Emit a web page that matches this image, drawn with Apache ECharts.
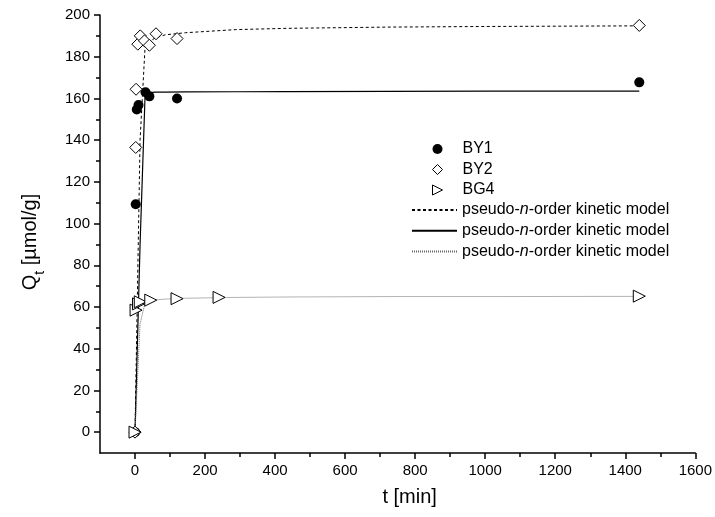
<!DOCTYPE html>
<html>
<head>
<meta charset="utf-8">
<script src="https://cdn.jsdelivr.net/npm/echarts@6/dist/echarts.min.js"></script>
<style>
  html, body { margin: 0; padding: 0; background: #fff; }
  #main { width: 715px; height: 517px; }
</style>
</head>
<body>
<div id="main"></div>
<script>
// measured points
var by1T = [0, 2, 5, 10, 30, 41, 120, 1440];
var by1Q = [0, 109.3, 154.7, 156.8, 163, 161, 160, 167.7];

var by2T = [0, 2, 3, 8, 15, 27, 41, 60, 120, 1440];
var by2Q = [0, 136.5, 164.4, 186, 190, 187.6, 185.5, 191, 188.7, 195];

var bg4T = [0, 3, 10, 15, 45, 120, 240, 1440];
var bg4Q = [0, 58.5, 61.5, 62.5, 63.3, 64, 64.6, 65.2];

// fitted curves
var modelT = [0, 14.4, 28.8, 43.2, 57.6, 86.4, 144, 288, 432, 720, 1008, 1440];
var modelBY2 = [0, 140, 185, 187.5, 189, 190.5, 191.5, 193, 193.6, 194.2, 194.5, 194.8];
var modelBY1 = [0, 90, 162, 162.8, 163, 163, 163.1, 163.2, 163.3, 163.4, 163.5, 163.5];
var modelBG4 = [0, 52, 62, 63, 63.4, 63.8, 64.2, 64.6, 64.8, 65, 65, 65.1];

// axis ticks
var xMajor = [0, 200, 400, 600, 800, 1000, 1200, 1400, 1600];
var xMinor = [100, 300, 500, 700, 900, 1100, 1300, 1500];
var yMajor = [0, 20, 40, 60, 80, 100, 120, 140, 160, 180, 200];
var yMinor = [10, 30, 50, 70, 90, 110, 130, 150, 170, 190];

function pairs(xs, ys) {
  return xs.map(function (x, i) { return [x, ys[i]]; });
}

var font = 'Liberation Sans, Arial, sans-serif';
var legendText = {
  fontFamily: font, fontSize: 16, color: '#000',
  rich: { i: { fontFamily: font, fontSize: 16, fontStyle: 'italic', color: '#000' } }
};

var dom = document.getElementById('main');
var myChart = echarts.init(dom, null, { renderer: 'canvas' });

var option = {
  animation: false,
  backgroundColor: '#fff',
  grid: { left: 100, right: 18, top: 15, bottom: 64 },
  legend: [{
    orient: 'vertical',
    left: 432,
    top: 141,
    padding: 0,
    itemWidth: 10,
    itemHeight: 10,
    itemGap: 4.5,
    data: [
      { name: 'BY1', icon: 'circle' },
      { name: 'BY2', icon: 'diamond', itemStyle: { borderWidth: 1 } },
      { name: 'BG4', icon: 'path://M0,0 L10,5 L0,10 Z', itemStyle: { borderWidth: 1 } }
    ],
    textStyle: Object.assign({}, legendText, { padding: [0, 0, 0, 15] })
  }, {
    orient: 'vertical',
    left: 411,
    top: 202,
    padding: 0,
    itemWidth: 45,
    itemHeight: 14,
    itemGap: 4.7,
    itemStyle: { opacity: 0 },
    data: ['mBY2', 'mBY1', 'mBG4'],
    formatter: function () { return 'pseudo-{i|n}-order kinetic model'; },
    textStyle: legendText
  }],
  xAxis: [{
    type: 'value',
    min: -100, max: 1600, interval: 100,
    name: 't [min]',
    nameLocation: 'middle',
    nameGap: 34,
    nameTextStyle: { fontFamily: font, fontSize: 20, color: '#000', padding: [0, 0, 0, 24] },
    axisLine: { onZero: false, lineStyle: { color: '#000', width: 1.5 } },
    axisTick: { customValues: xMajor, length: 6, lineStyle: { color: '#000', width: 1.5 } },
    axisLabel: {
      customValues: xMajor, margin: 10, fontFamily: font, fontSize: 15, color: '#000',
      formatter: function (v) { return String(v); }
    },
    splitLine: { show: false }
  }, {
    type: 'value',
    gridIndex: 0,
    position: 'bottom',
    min: -100, max: 1600, interval: 100,
    axisLine: { show: false, onZero: false },
    axisTick: { customValues: xMinor, length: 4, lineStyle: { color: '#000', width: 1.5 } },
    axisLabel: { show: false },
    splitLine: { show: false }
  }],
  yAxis: [{
    type: 'value',
    min: -10, max: 200, interval: 10,
    name: '{q|Q}{s|t}{q| [µmol/g]}',
    nameLocation: 'middle',
    nameGap: 53,
    nameRotate: 90,
    nameTextStyle: {
      fontFamily: font, fontSize: 20, color: '#000', padding: [0, 16, 0, 0],
      rich: {
        q: { fontFamily: font, fontSize: 20, lineHeight: 20, color: '#000', verticalAlign: 'top' },
        s: { fontFamily: font, fontSize: 14, lineHeight: 27, color: '#000', verticalAlign: 'bottom' }
      }
    },
    axisLine: { onZero: false, lineStyle: { color: '#000', width: 1.5 } },
    axisTick: { customValues: yMajor, length: 6, lineStyle: { color: '#000', width: 1.5 } },
    axisLabel: { customValues: yMajor, margin: 10, fontFamily: font, fontSize: 15, color: '#000' },
    splitLine: { show: false }
  }, {
    type: 'value',
    gridIndex: 0,
    position: 'left',
    min: -10, max: 200, interval: 10,
    axisLine: { show: false, onZero: false },
    axisTick: { customValues: yMinor, length: 4, lineStyle: { color: '#000', width: 1.5 } },
    axisLabel: { show: false },
    splitLine: { show: false }
  }],
  series: [
    {
      name: 'mBY2', type: 'line', data: pairs(modelT, modelBY2),
      symbol: 'none', z: 1,
      lineStyle: { color: '#000', width: 1, type: [3, 2.5] },
      itemStyle: { color: '#000' }
    },
    {
      name: 'mBY1', type: 'line', data: pairs(modelT, modelBY1),
      symbol: 'none', z: 1,
      lineStyle: { color: '#000', width: 1.2 },
      itemStyle: { color: '#000' }
    },
    {
      name: 'mBG4', type: 'line', data: pairs(modelT, modelBG4),
      symbol: 'none', z: 1,
      lineStyle: { color: '#666', width: 1, type: [1, 1] },
      itemStyle: { color: '#666' }
    },
    {
      name: 'BY1', type: 'scatter', data: pairs(by1T, by1Q),
      symbol: 'circle', symbolSize: 10, z: 3,
      itemStyle: { color: '#000', opacity: 1 }
    },
    {
      name: 'BY2', type: 'scatter', data: pairs(by2T, by2Q),
      symbol: 'diamond', symbolSize: 12, z: 3,
      itemStyle: { color: '#fff', borderColor: '#000', borderWidth: 1, opacity: 1 }
    },
    {
      name: 'BG4', type: 'scatter', data: pairs(bg4T, bg4Q),
      symbol: 'triangle', symbolSize: 12, symbolRotate: -90, z: 3,
      itemStyle: { color: '#fff', borderColor: '#000', borderWidth: 1, opacity: 1 }
    }
  ]
};

myChart.setOption(option);
window.addEventListener('resize', myChart.resize);
</script>
</body>
</html>
